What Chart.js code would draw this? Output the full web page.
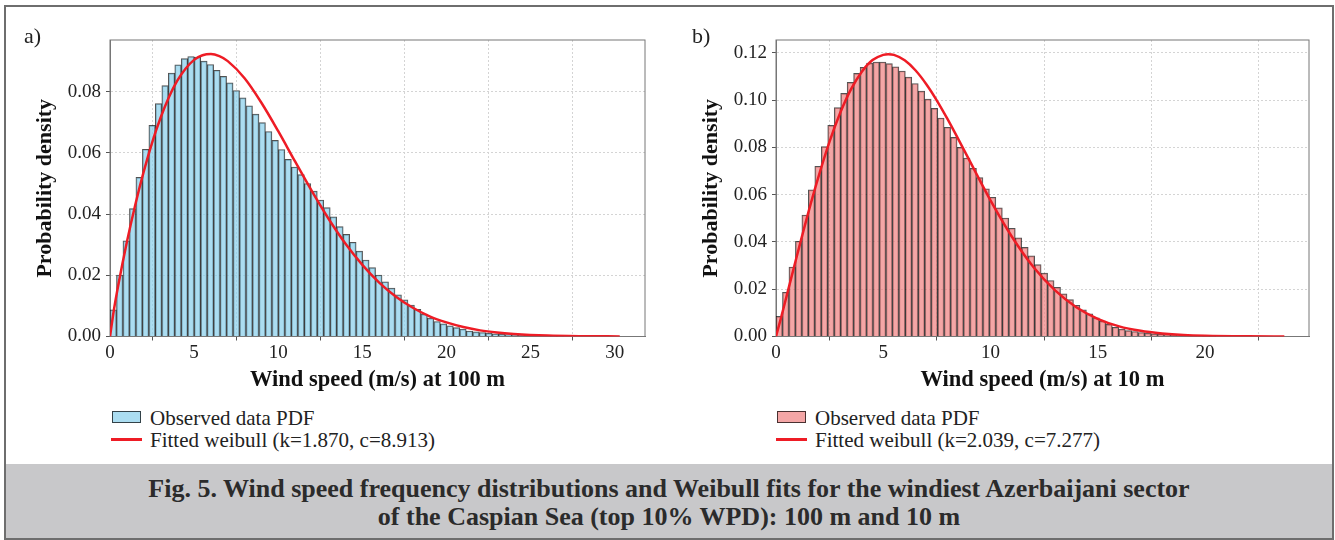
<!DOCTYPE html>
<html lang="en">

<head>
    <meta charset="UTF-8">
    <title>Wind speed distributions and Weibull fits</title>
    <script src="https://cdn.jsdelivr.net/npm/chart.js"></script>
    <style>
        body {
            margin: 0;
            background: #fff;
            font-family: 'Liberation Serif', serif;
            color: #222;
        }
        .page {
            position: relative;
            width: 1335px;
            height: 540px;
            overflow: hidden;
        }
        .frame {
            position: absolute;
            left: 4px;
            top: 5px;
            width: 1330px;
            height: 535px;
            border: 2px solid #6e6e6e;
            box-sizing: border-box;
        }
        .caption {
            position: absolute;
            left: 6px;
            top: 464px;
            width: 1326px;
            height: 74px;
            background: #c8c8ca;
            text-align: center;
            font-weight: bold;
            font-size: 26px;
            line-height: 28px;
            color: #2b2b2b;
            padding-top: 11px;
            box-sizing: border-box;
        }
        .panel-label {
            position: absolute;
            top: 25px;
            font-size: 22px;
            line-height: 22px;
        }
        .chart-box {
            position: absolute;
            top: 0;
            width: 665px;
            height: 400px;
        }
        .legend {
            position: absolute;
            top: 407px;
            font-size: 21px;
            line-height: 22px;
        }
        .legend div {
            position: relative;
            padding-left: 38px;
            white-space: nowrap;
        }
        .swatch {
            position: absolute;
            left: 0;
            top: 4px;
            width: 29px;
            height: 12px;
            border: 1.5px solid rgba(0, 0, 0, 0.7);
            box-sizing: border-box;
        }
        .redline {
            position: absolute;
            left: -1px;
            top: 9px;
            width: 31px;
            height: 3px;
            background: #ee1c25;
        }
    </style>
</head>

<body>
    <div class="page">
        <div class="frame"></div>

        <div class="chart-box" style="left:0"><canvas id="chartA"></canvas></div>
        <div class="chart-box" style="left:666px"><canvas id="chartB"></canvas></div>

        <div class="panel-label" style="left:24px">a)</div>
        <div class="panel-label" style="left:692px">b)</div>

        <div class="legend" style="left:112px">
            <div><span class="swatch" style="background:rgba(135,206,235,0.7)"></span>Observed data PDF</div>
            <div><span class="redline"></span>Fitted weibull (k=1.870, c=8.913)</div>
        </div>
        <div class="legend" style="left:777px">
            <div><span class="swatch" style="background:rgba(240,128,128,0.7)"></span>Observed data PDF</div>
            <div><span class="redline"></span>Fitted weibull (k=2.039, c=7.277)</div>
        </div>

        <div class="caption">
            Fig. 5. Wind speed frequency distributions and Weibull fits for the windiest Azerbaijani sector<br>
            of the Caspian Sea (top 10% WPD): 100 m and 10 m
        </div>
    </div>

    <script>
        // histogram at 100 m (bin width ~0.385 m/s, starting at 0)
        const binWidthA = 0.385;
        const histA = [0.0087, 0.0201, 0.0313, 0.0418, 0.0520, 0.0612, 0.0690, 0.0761, 0.0820, 0.0861,
            0.0888, 0.0908, 0.0915, 0.0913, 0.0900, 0.0889, 0.0870, 0.0850, 0.0829, 0.0804,
            0.0780, 0.0754, 0.0727, 0.0699, 0.0670, 0.0641, 0.0611, 0.0579, 0.0554, 0.0529,
            0.0500, 0.0475, 0.0446, 0.0421, 0.0391, 0.0359, 0.0334, 0.0308, 0.0279, 0.0250,
            0.0225, 0.0201, 0.0179, 0.0158, 0.0136, 0.0120, 0.0103, 0.0089, 0.0073, 0.0060,
            0.0049, 0.0041, 0.0035, 0.0029, 0.0024, 0.0018, 0.0015, 0.0013, 0.0011, 0.0009,
            0.0007, 0.0006, 0.0005, 0.0004, 0.0003, 0.0003, 0.0002, 0.0002, 0.0001, 0.0001];

        // fitted weibull curve at 100 m
        const fitXA = [0, 0.25, 0.5, 1, 1.5, 2, 2.5, 3, 3.5, 4, 4.5, 5, 5.5, 6, 6.5, 7, 8, 9, 10, 11,
            12, 13, 14, 15, 16, 17, 18, 19, 20, 21, 22, 23, 24, 26, 28, 30.3];
        const fitYA = [0, 0.0093, 0.0170, 0.0308, 0.0430, 0.0538, 0.0633, 0.0714, 0.0782, 0.0836, 0.0876,
            0.0904, 0.0919, 0.0923, 0.0916, 0.0900, 0.0844, 0.0764, 0.0671, 0.0572,
            0.0475, 0.0384, 0.0303, 0.0234, 0.0176, 0.0130, 0.0094, 0.0066, 0.0046, 0.0031,
            0.0020, 0.0013, 0.00085, 0.00032, 0.00011, 0.00003];

        // histogram at 10 m (bin width ~0.3015 m/s)
        const binWidthB = 0.3015;
        const histB = [0.0085, 0.0187, 0.0294, 0.0403, 0.0514, 0.0620, 0.0720, 0.0803, 0.0893, 0.0968,
            0.1028, 0.1075, 0.1113, 0.1138, 0.1156, 0.1161, 0.1161, 0.1154, 0.1141, 0.1123,
            0.1097, 0.1070, 0.1038, 0.1004, 0.0965, 0.0924, 0.0885, 0.0842, 0.0800, 0.0755,
            0.0711, 0.0672, 0.0625, 0.0589, 0.0544, 0.0501, 0.0458, 0.0417, 0.0377, 0.0341,
            0.0304, 0.0268, 0.0237, 0.0208, 0.0180, 0.0156, 0.0132, 0.0113, 0.0096, 0.0079,
            0.0065, 0.0051, 0.0039, 0.0031, 0.0025, 0.0021, 0.0017, 0.0014, 0.0011, 0.0009,
            0.0007, 0.0005, 0.0004, 0.0003, 0.0002, 0.0002, 0.0001, 0.0001];

        const fitXB = [0, 0.25, 0.5, 1, 1.5, 2, 2.5, 3, 3.5, 4, 4.5, 5, 5.23, 5.5, 6, 6.5, 7, 7.5, 8, 9,
            10, 11, 12, 13, 14, 15, 16, 17, 18, 19, 20, 22, 23.7];
        const fitYB = [0, 0.0084, 0.0173, 0.0350, 0.0522, 0.0681, 0.0825, 0.0947, 0.1046, 0.1120, 0.1169,
            0.1191, 0.1194, 0.1191, 0.1168, 0.1126, 0.1068, 0.0998, 0.0919, 0.0748,
            0.0576, 0.0422, 0.0294, 0.0196, 0.0124, 0.0075, 0.0043, 0.0024, 0.0013, 0.00064,
            0.00031, 0.00006, 0.00001];

        const xTicksStep = 5;
        const yTicksStep = 0.02;

        Chart.defaults.font.family = "'Liberation Serif', serif";
        Chart.defaults.color = '#222';

        // matplotlib-style box around the plot area
        const frameBox = {
            id: 'frameBox',
            beforeDatasetsDraw(chart) {
                const { ctx, chartArea: a } = chart;
                ctx.save();
                ctx.strokeStyle = '#777';
                ctx.lineWidth = 1;
                ctx.strokeRect(a.left, a.top, a.right - a.left, a.bottom - a.top);
                ctx.restore();
            }
        };

        function makeChart(id, opt) {
            const bars = opt.hist.map((v, i) => ({ x: (i + 0.5) * opt.binWidth, y: v }));
            const curve = opt.fitX.map((x, i) => ({ x: x, y: opt.fitY[i] }));
            return new Chart(document.getElementById(id), {
                type: 'bar',
                data: {
                    datasets: [{
                        type: 'line',
                        data: curve,
                        borderColor: '#ee1c25',
                        borderWidth: 2.5,
                        pointRadius: 0,
                        cubicInterpolationMode: 'monotone',
                        order: 0
                    }, {
                        data: bars,
                        backgroundColor: opt.fill,
                        borderColor: 'rgba(0,0,0,0.68)',
                        borderWidth: 1,
                        barPercentage: 1,
                        categoryPercentage: 1,
                        order: 1
                    }]
                },
                options: {
                    responsive: true,
                    maintainAspectRatio: false,
                    animation: false,
                    layout: { padding: { top: 40, right: opt.padRight, left: 0, bottom: 0 } },
                    plugins: { legend: { display: false }, tooltip: { enabled: false } },
                    scales: {
                        x: {
                            type: 'linear', min: 0, max: opt.xMax, offset: false,
                            ticks: { stepSize: xTicksStep, includeBounds: false, padding: 1, font: { size: 19 } },
                            grid: { color: '#d4d4d4', tickColor: '#555', tickLength: 4 },
                            border: { color: '#777', dash: [2, 2] },
                            title: {
                                display: true, text: opt.xTitle, color: '#111',
                                font: { size: 22.5, weight: 'bold' }, padding: { top: 0, bottom: 6 }
                            },
                            afterFit: s => { s.height = 63.5; }
                        },
                        y: {
                            min: 0, max: opt.yMax,
                            ticks: {
                                stepSize: yTicksStep, includeBounds: false, padding: 5, font: { size: 19 },
                                callback: v => v.toFixed(2)
                            },
                            grid: { color: '#d4d4d4', tickColor: '#555', tickLength: 4 },
                            border: { color: '#777', dash: [2, 2] },
                            title: {
                                display: true, text: 'Probability density', color: '#111',
                                font: { size: 22, weight: 'bold' }, padding: { top: 32, bottom: 0 }
                            },
                            afterFit: s => { s.width = 110; }
                        }
                    }
                },
                plugins: [frameBox]
            });
        }

        makeChart('chartA', {
            hist: histA, binWidth: binWidthA, fitX: fitXA, fitY: fitYA,
            xMax: 31.8, yMax: 0.0969, padRight: 20,
            xTitle: 'Wind speed (m/s) at 100 m', fill: 'rgba(135,206,235,0.7)'
        });
        makeChart('chartB', {
            hist: histB, binWidth: binWidthB, fitX: fitXB, fitY: fitYB,
            xMax: 24.85, yMax: 0.1254, padRight: 22,
            xTitle: 'Wind speed (m/s) at 10 m', fill: 'rgba(240,128,128,0.7)'
        });
    </script>
</body>
</html>
